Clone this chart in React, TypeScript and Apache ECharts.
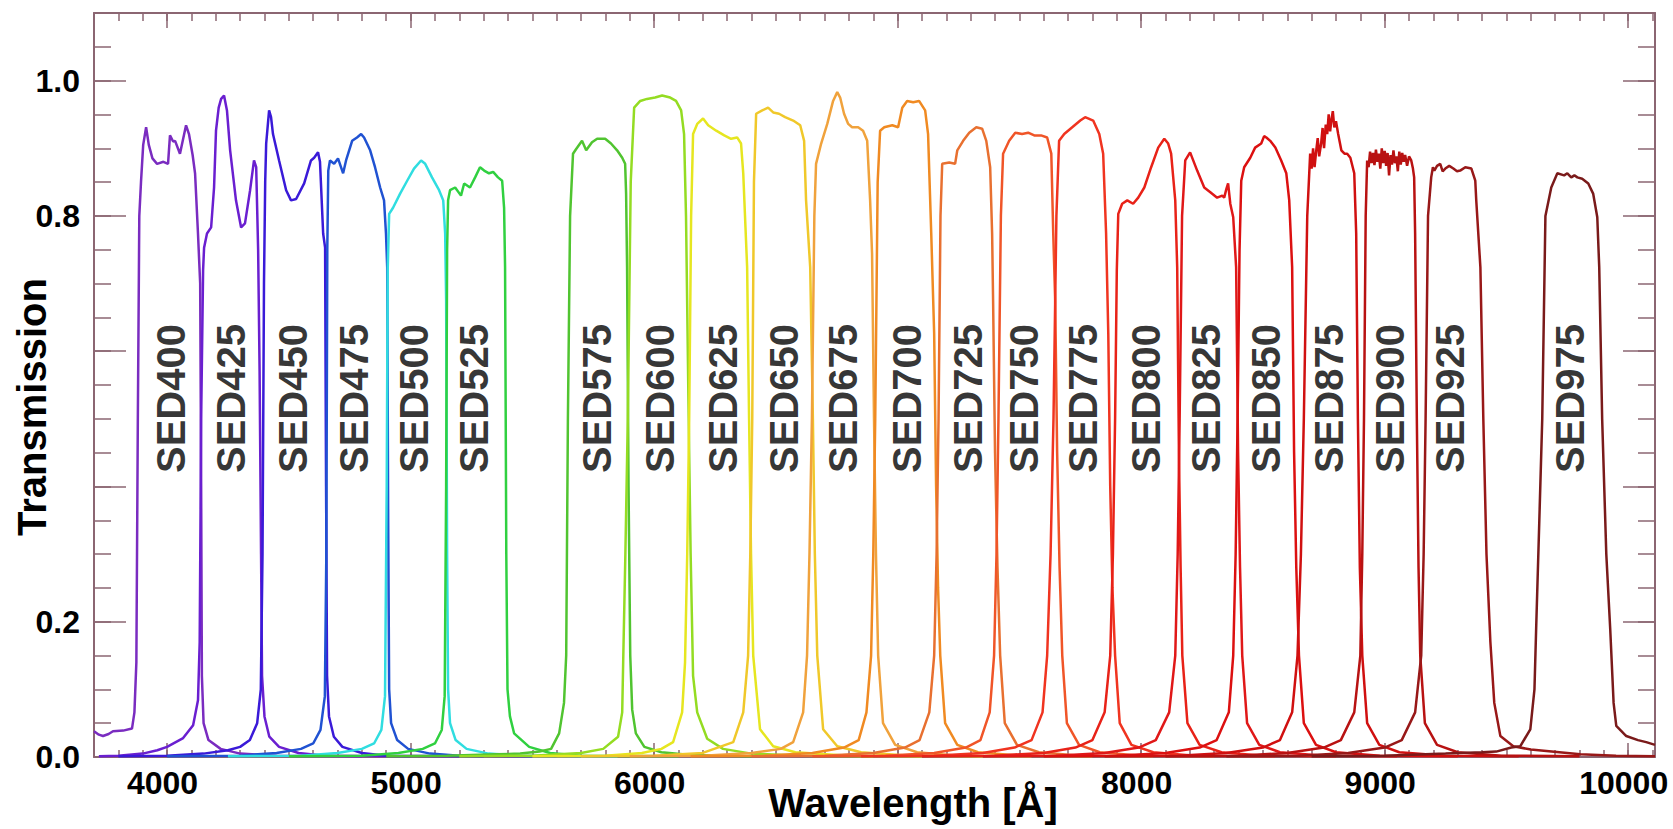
import React, { useEffect, useRef } from 'react';
import * as echarts from 'echarts';

// ---------- axis values ----------
const XMIN = 3700;
const XMAX = 10110;
const YMIN = 0;
const YMAX = 1.1;
const xMajorTicks = [4000, 5000, 6000, 7000, 8000, 9000, 10000];
const xLabelValues = [4000, 5000, 6000, 8000, 9000, 10000];
const yMajorTicks = [0, 0.2, 0.4, 0.6, 0.8, 1.0];
const yLabelValues = [0, 0.2, 0.8, 1.0];
const xMinorTicks: number[] = [];
for (let v = 3800; v <= 10100; v += 100) xMinorTicks.push(v);
const yMinorTicks: number[] = [];
for (let k = 1; k <= 21; k++) yMinorTicks.push(Math.round(k * 5) / 100);

// ---------- filters ----------
const filterNames = [
  'SED400', 'SED425', 'SED450', 'SED475', 'SED500', 'SED525', 'SED575', 'SED600',
  'SED625', 'SED650', 'SED675', 'SED700', 'SED725', 'SED750', 'SED775', 'SED800',
  'SED825', 'SED850', 'SED875', 'SED900', 'SED925', 'SED975',
];
const filterColors = [
  '#7a2cc0', '#6a1fd0', '#3a1ad8', '#2052d2', '#30dde0', '#30d040', '#50c430', '#94dc22',
  '#e6e620', '#f0c82a', '#f0a23c', '#f08a22', '#e87030', '#f05528', '#f03420', '#e82218',
  '#e01818', '#dc1010', '#d01010', '#b81212', '#981818', '#7a1a1a',
];
// label anchor wavelengths (centre of each rotated label) and label height
const labelX = [
  4018, 4263, 4517, 4768, 5014, 5261, 5766, 6025, 6284, 6534, 6776,
  7039, 7290, 7520, 7762, 8021, 8267, 8514, 8772, 9023, 9269, 9762,
];
const LABEL_T = 0.53;

// ---------- transmission curves [wavelength Å, transmission] ----------
const sed400 = [
  [3700, 0.038], [3720, 0.033], [3737, 0.031], [3760, 0.034], [3778, 0.038], [3820, 0.039],
  [3856, 0.042], [3866, 0.066], [3874, 0.14], [3880, 0.5], [3886, 0.8], [3893, 0.85],
  [3902, 0.905], [3914, 0.931], [3925, 0.905], [3940, 0.885], [3959, 0.877], [3985, 0.88],
  [4004, 0.877], [4012, 0.919], [4025, 0.91], [4033, 0.911], [4053, 0.892], [4078, 0.934],
  [4090, 0.921], [4105, 0.89], [4115, 0.863], [4127, 0.774], [4136, 0.7], [4140, 0.4],
  [4143, 0.12], [4150, 0.05], [4170, 0.025], [4220, 0.012], [4300, 0.005], [4450, 0.002],
  [4800, 0.001],
];
const sed425 = [
  [3720, 0.001], [3800, 0.002], [3900, 0.005], [3960, 0.01], [4000, 0.015], [4066, 0.028],
  [4107, 0.047], [4127, 0.084], [4134, 0.17], [4140, 0.5], [4148, 0.72], [4152, 0.753],
  [4164, 0.774], [4181, 0.783], [4193, 0.842], [4201, 0.926], [4212, 0.96], [4222, 0.973],
  [4234, 0.978], [4246, 0.956], [4259, 0.897], [4283, 0.823], [4304, 0.783], [4320, 0.789],
  [4341, 0.838], [4357, 0.882], [4366, 0.872], [4374, 0.75], [4380, 0.57], [4386, 0.3],
  [4390, 0.12], [4400, 0.06], [4420, 0.03], [4460, 0.015], [4540, 0.006], [4650, 0.002],
  [5000, 0.001],
];
const sed450 = [
  [3800, 0.001], [4000, 0.002], [4150, 0.005], [4250, 0.01], [4300, 0.015], [4340, 0.025],
  [4370, 0.05], [4385, 0.1], [4392, 0.3], [4398, 0.7], [4403, 0.85], [4407, 0.907],
  [4419, 0.956], [4427, 0.946], [4435, 0.921], [4460, 0.882], [4489, 0.838], [4509, 0.823],
  [4530, 0.825], [4563, 0.848], [4591, 0.882], [4604, 0.886], [4620, 0.894], [4628, 0.88],
  [4641, 0.774], [4649, 0.753], [4653, 0.4], [4657, 0.12], [4665, 0.06], [4685, 0.03],
  [4720, 0.015], [4800, 0.006], [4900, 0.002], [5300, 0.001],
];
const sed475 = [
  [4000, 0.001], [4300, 0.002], [4450, 0.006], [4550, 0.012], [4600, 0.02], [4630, 0.04],
  [4648, 0.09], [4654, 0.3], [4658, 0.75], [4662, 0.867], [4669, 0.882], [4686, 0.877],
  [4702, 0.885], [4723, 0.863], [4735, 0.882], [4760, 0.911], [4780, 0.916], [4797, 0.921],
  [4809, 0.916], [4834, 0.897], [4854, 0.872], [4875, 0.842], [4891, 0.823], [4899, 0.774],
  [4904, 0.724], [4908, 0.35], [4912, 0.1], [4920, 0.05], [4945, 0.025], [4990, 0.012],
  [5080, 0.005], [5200, 0.002], [5600, 0.001],
];
const sed500 = [
  [4250, 0.001], [4550, 0.002], [4700, 0.006], [4800, 0.012], [4850, 0.02], [4880, 0.04],
  [4895, 0.09], [4902, 0.4], [4906, 0.72], [4912, 0.803], [4928, 0.812], [4957, 0.833],
  [4986, 0.852], [5014, 0.87], [5043, 0.882], [5060, 0.877], [5088, 0.857], [5117, 0.838],
  [5134, 0.823], [5142, 0.774], [5146, 0.675], [5150, 0.3], [5154, 0.1], [5162, 0.05],
  [5185, 0.025], [5230, 0.012], [5320, 0.005], [5450, 0.002], [5850, 0.001],
];
const sed525 = [
  [4500, 0.001], [4800, 0.002], [4950, 0.006], [5050, 0.012], [5100, 0.02], [5128, 0.04],
  [5140, 0.09], [5146, 0.4], [5150, 0.75], [5154, 0.823], [5162, 0.838], [5183, 0.842],
  [5207, 0.83], [5220, 0.848], [5244, 0.842], [5265, 0.857], [5285, 0.872], [5302, 0.867],
  [5322, 0.863], [5339, 0.865], [5359, 0.857], [5376, 0.852], [5384, 0.812], [5388, 0.724],
  [5393, 0.3], [5398, 0.1], [5408, 0.06], [5425, 0.035], [5487, 0.015], [5573, 0.006],
  [5700, 0.002], [6100, 0.001],
];
const sed575 = [
  [4900, 0.001], [5150, 0.002], [5350, 0.004], [5450, 0.005], [5530, 0.008], [5577, 0.012],
  [5610, 0.035], [5630, 0.08], [5639, 0.15], [5646, 0.5], [5655, 0.8], [5667, 0.892],
  [5680, 0.899], [5704, 0.911], [5721, 0.897], [5745, 0.909], [5766, 0.914], [5799, 0.914],
  [5823, 0.907], [5848, 0.897], [5869, 0.886], [5881, 0.877], [5885, 0.833], [5889, 0.724],
  [5895, 0.4], [5902, 0.15], [5910, 0.07], [5925, 0.035], [5960, 0.015], [6030, 0.007],
  [6150, 0.003], [6400, 0.001],
];
const sed600 = [
  [5200, 0.001], [5500, 0.002], [5700, 0.006], [5791, 0.012], [5852, 0.03], [5869, 0.066],
  [5873, 0.14], [5882, 0.3], [5892, 0.5], [5904, 0.85], [5918, 0.96], [5943, 0.97],
  [5971, 0.973], [6004, 0.975], [6033, 0.978], [6066, 0.975], [6090, 0.97], [6111, 0.956],
  [6123, 0.921], [6131, 0.8], [6142, 0.5], [6150, 0.3], [6160, 0.12], [6177, 0.066],
  [6218, 0.027], [6283, 0.012], [6400, 0.005], [6600, 0.002], [6900, 0.001],
];
const sed625 = [
  [5500, 0.001], [5800, 0.002], [5950, 0.006], [6030, 0.012], [6078, 0.022], [6115, 0.066],
  [6127, 0.14], [6136, 0.3], [6144, 0.5], [6152, 0.8], [6160, 0.921], [6177, 0.936],
  [6201, 0.944], [6222, 0.934], [6255, 0.926], [6288, 0.919], [6316, 0.914], [6341, 0.916],
  [6357, 0.907], [6366, 0.863], [6382, 0.724], [6390, 0.5], [6398, 0.3], [6407, 0.15],
  [6435, 0.041], [6489, 0.016], [6580, 0.007], [6800, 0.002], [7100, 0.001],
];
const sed650 = [
  [5700, 0.001], [6000, 0.002], [6200, 0.006], [6325, 0.022], [6366, 0.066], [6386, 0.15],
  [6395, 0.3], [6403, 0.5], [6410, 0.85], [6419, 0.951], [6444, 0.956], [6468, 0.96],
  [6489, 0.953], [6513, 0.951], [6538, 0.946], [6571, 0.941], [6600, 0.934], [6616, 0.911],
  [6624, 0.823], [6641, 0.724], [6652, 0.5], [6660, 0.3], [6670, 0.15], [6694, 0.041],
  [6752, 0.016], [6850, 0.007], [7050, 0.002], [7350, 0.001],
];
const sed675 = [
  [5900, 0.001], [6200, 0.002], [6400, 0.006], [6520, 0.012], [6571, 0.022], [6612, 0.066],
  [6628, 0.15], [6638, 0.3], [6648, 0.5], [6658, 0.8], [6665, 0.877], [6686, 0.907],
  [6711, 0.936], [6735, 0.97], [6752, 0.983], [6764, 0.975], [6780, 0.951], [6797, 0.936],
  [6813, 0.931], [6838, 0.931], [6858, 0.926], [6875, 0.911], [6887, 0.823], [6895, 0.744],
  [6903, 0.5], [6911, 0.3], [6920, 0.15], [6940, 0.05], [6990, 0.018], [7080, 0.007],
  [7250, 0.002], [7550, 0.001],
];
const sed700 = [
  [6150, 0.001], [6450, 0.002], [6650, 0.006], [6780, 0.014], [6840, 0.025], [6872, 0.066],
  [6891, 0.15], [6900, 0.3], [6908, 0.5], [6918, 0.85], [6928, 0.926], [6945, 0.931],
  [6978, 0.934], [7002, 0.931], [7019, 0.96], [7039, 0.97], [7064, 0.968], [7088, 0.97],
  [7113, 0.956], [7125, 0.921], [7138, 0.774], [7150, 0.626], [7158, 0.4], [7166, 0.25],
  [7175, 0.15], [7195, 0.05], [7245, 0.018], [7330, 0.007], [7500, 0.002], [7800, 0.001],
];
const sed725 = [
  [6400, 0.001], [6700, 0.002], [6900, 0.006], [7030, 0.014], [7090, 0.025], [7130, 0.066],
  [7150, 0.15], [7160, 0.3], [7168, 0.5], [7176, 0.8], [7183, 0.877], [7212, 0.879],
  [7236, 0.877], [7245, 0.897], [7269, 0.911], [7294, 0.923], [7323, 0.931], [7347, 0.929],
  [7364, 0.911], [7380, 0.872], [7388, 0.774], [7392, 0.675], [7400, 0.45], [7410, 0.28],
  [7421, 0.15], [7440, 0.05], [7490, 0.018], [7580, 0.007], [7750, 0.002], [8050, 0.001],
];
const sed750 = [
  [6650, 0.001], [6950, 0.002], [7150, 0.006], [7280, 0.014], [7340, 0.025], [7378, 0.066],
  [7396, 0.15], [7406, 0.3], [7414, 0.5], [7424, 0.8], [7433, 0.892], [7458, 0.911],
  [7483, 0.923], [7511, 0.921], [7536, 0.923], [7561, 0.919], [7589, 0.919], [7614, 0.916],
  [7631, 0.892], [7639, 0.774], [7647, 0.675], [7655, 0.45], [7665, 0.28], [7676, 0.15],
  [7695, 0.05], [7745, 0.018], [7830, 0.007], [8000, 0.002], [8300, 0.001],
];
const sed775 = [
  [6850, 0.001], [7150, 0.002], [7350, 0.006], [7480, 0.014], [7550, 0.025], [7595, 0.066],
  [7614, 0.15], [7628, 0.3], [7640, 0.5], [7652, 0.8], [7663, 0.911], [7684, 0.921],
  [7717, 0.931], [7750, 0.941], [7770, 0.946], [7803, 0.941], [7828, 0.921], [7844, 0.892],
  [7856, 0.774], [7865, 0.626], [7873, 0.4], [7882, 0.25], [7893, 0.15], [7912, 0.05],
  [7960, 0.018], [8050, 0.007], [8220, 0.002], [8550, 0.001],
];
const sed800 = [
  [7100, 0.001], [7400, 0.002], [7600, 0.006], [7730, 0.014], [7800, 0.025], [7850, 0.066],
  [7873, 0.15], [7884, 0.3], [7893, 0.5], [7900, 0.72], [7906, 0.803], [7922, 0.818],
  [7943, 0.823], [7967, 0.818], [7988, 0.827], [8013, 0.842], [8041, 0.872], [8070, 0.901],
  [8095, 0.914], [8111, 0.907], [8123, 0.892], [8140, 0.823], [8148, 0.724], [8155, 0.45],
  [8162, 0.28], [8169, 0.15], [8190, 0.05], [8240, 0.018], [8330, 0.007], [8500, 0.002],
  [8800, 0.001],
];
const sed825 = [
  [7350, 0.001], [7650, 0.002], [7850, 0.006], [7990, 0.014], [8060, 0.025], [8115, 0.066],
  [8140, 0.15], [8150, 0.3], [8158, 0.5], [8168, 0.8], [8181, 0.882], [8201, 0.894],
  [8230, 0.867], [8259, 0.842], [8284, 0.835], [8312, 0.827], [8333, 0.83], [8341, 0.827],
  [8350, 0.84], [8357, 0.848], [8366, 0.818], [8378, 0.798], [8390, 0.724], [8398, 0.45],
  [8406, 0.28], [8415, 0.15], [8435, 0.05], [8485, 0.018], [8570, 0.007], [8750, 0.002],
  [9050, 0.001],
];
const sed850 = [
  [7600, 0.001], [7900, 0.002], [8100, 0.006], [8240, 0.014], [8310, 0.025], [8360, 0.066],
  [8378, 0.15], [8388, 0.3], [8396, 0.5], [8404, 0.75], [8411, 0.852], [8423, 0.872],
  [8448, 0.886], [8468, 0.901], [8493, 0.907], [8505, 0.918], [8514, 0.916], [8530, 0.911],
  [8551, 0.901], [8575, 0.882], [8596, 0.863], [8608, 0.823], [8620, 0.724], [8628, 0.45],
  [8637, 0.28], [8648, 0.15], [8668, 0.05], [8718, 0.018], [8800, 0.007], [8980, 0.002],
  [9300, 0.001],
];
const sed875 = [
  [7850, 0.001], [8150, 0.002], [8350, 0.006], [8500, 0.014], [8570, 0.025], [8620, 0.066],
  [8642, 0.15], [8656, 0.3], [8668, 0.5], [8682, 0.8], [8694, 0.892], [8700, 0.87],
  [8706, 0.9], [8712, 0.872], [8719, 0.897], [8725, 0.915], [8731, 0.888], [8739, 0.907],
  [8745, 0.93], [8751, 0.9], [8758, 0.935], [8764, 0.921], [8770, 0.95], [8776, 0.925],
  [8781, 0.941], [8787, 0.955], [8793, 0.931], [8800, 0.94], [8809, 0.921], [8815, 0.91],
  [8822, 0.897], [8835, 0.892], [8846, 0.892], [8859, 0.886], [8875, 0.863], [8883, 0.774],
  [8890, 0.5], [8898, 0.28], [8908, 0.15], [8928, 0.05], [8978, 0.018], [9060, 0.007],
  [9250, 0.002], [9550, 0.001],
];
const sed900 = [
  [8100, 0.001], [8400, 0.002], [8600, 0.006], [8750, 0.014], [8820, 0.025], [8875, 0.066],
  [8900, 0.15], [8908, 0.3], [8915, 0.5], [8922, 0.8], [8928, 0.882], [8934, 0.872],
  [8940, 0.895], [8946, 0.878], [8952, 0.893], [8958, 0.875], [8964, 0.898], [8970, 0.88],
  [8976, 0.892], [8982, 0.87], [8988, 0.9], [8994, 0.878], [9000, 0.896], [9006, 0.874],
  [9012, 0.893], [9018, 0.86], [9024, 0.89], [9030, 0.876], [9036, 0.897], [9042, 0.878],
  [9048, 0.888], [9054, 0.866], [9060, 0.895], [9066, 0.876], [9072, 0.893], [9078, 0.88],
  [9084, 0.89], [9092, 0.874], [9100, 0.888], [9109, 0.882], [9116, 0.87], [9121, 0.857],
  [9125, 0.774], [9132, 0.5], [9139, 0.28], [9146, 0.15], [9165, 0.05], [9215, 0.018],
  [9300, 0.007], [9480, 0.002], [9800, 0.001],
];
const sed925 = [
  [8350, 0.001], [8650, 0.002], [8850, 0.006], [9000, 0.014], [9070, 0.025], [9125, 0.066],
  [9150, 0.15], [9160, 0.3], [9168, 0.5], [9178, 0.8], [9191, 0.857], [9198, 0.872],
  [9204, 0.867], [9215, 0.874], [9228, 0.877], [9238, 0.866], [9249, 0.87], [9265, 0.874],
  [9282, 0.87], [9297, 0.866], [9310, 0.867], [9331, 0.872], [9356, 0.87], [9372, 0.852],
  [9376, 0.823], [9393, 0.724], [9405, 0.5], [9418, 0.3], [9434, 0.17], [9450, 0.08],
  [9475, 0.031], [9528, 0.016], [9600, 0.011], [9664, 0.009], [9803, 0.004], [9950, 0.002],
  [10110, 0.001],
];
const sed975 = [
  [8700, 0.001], [9000, 0.002], [9250, 0.005], [9400, 0.007], [9458, 0.008], [9520, 0.014],
  [9557, 0.016], [9598, 0.041], [9615, 0.1], [9622, 0.19], [9635, 0.35], [9647, 0.5],
  [9660, 0.8], [9684, 0.842], [9709, 0.863], [9737, 0.86], [9750, 0.863], [9766, 0.857],
  [9779, 0.86], [9791, 0.857], [9811, 0.855], [9836, 0.848], [9856, 0.833], [9873, 0.798],
  [9881, 0.724], [9893, 0.5], [9910, 0.3], [9926, 0.19], [9940, 0.08], [9951, 0.046],
  [9992, 0.031], [10040, 0.025], [10074, 0.022], [10110, 0.018],
];

const curves = [
  sed400, sed425, sed450, sed475, sed500, sed525, sed575, sed600, sed625, sed650, sed675,
  sed700, sed725, sed750, sed775, sed800, sed825, sed850, sed875, sed900, sed925, sed975,
];

const FRAME = '#8b6672';
const FONT = '"Liberation Sans", Arial, Helvetica, sans-serif';

function xAxisDef(grid: number, pos: 'top' | 'bottom', ticks: number[], len: number, showLine: boolean, labels: boolean) {
  return {
    type: 'value',
    gridIndex: grid,
    position: pos,
    min: XMIN,
    max: XMAX,
    axisLine: { show: showLine, onZero: false, lineStyle: { color: FRAME, width: 2 } },
    axisTick: { show: true, inside: true, length: len, customValues: ticks, lineStyle: { color: FRAME, width: 1.5 } },
    axisLabel: labels
      ? {
          show: true,
          customValues: xLabelValues,
          margin: 10,
          padding: [0, 9, 0, 0],
          fontSize: 32,
          fontWeight: 'bold',
          fontFamily: FONT,
          color: '#000',
          formatter: (v: number) => String(v),
        }
      : { show: false },
    splitLine: { show: false },
  };
}

function yAxisDef(grid: number, pos: 'left' | 'right', ticks: number[], len: number, showLine: boolean, labels: boolean) {
  return {
    type: 'value',
    gridIndex: grid,
    position: pos,
    min: YMIN,
    max: YMAX,
    axisLine: { show: showLine, onZero: false, lineStyle: { color: FRAME, width: 2 } },
    axisTick: { show: true, inside: true, length: len, customValues: ticks, lineStyle: { color: FRAME, width: 1.5 } },
    axisLabel: labels
      ? {
          show: true,
          customValues: yLabelValues,
          margin: 14,
          fontSize: 32,
          fontWeight: 'bold',
          fontFamily: FONT,
          color: '#000',
          formatter: (v: number) => v.toFixed(1),
        }
      : { show: false },
    splitLine: { show: false },
  };
}

export default function App() {
  const ref = useRef<HTMLDivElement>(null);

  useEffect(() => {
    if (!ref.current) return;
    const chart = echarts.init(ref.current, null, { renderer: 'svg' });
    const gridPos = { left: 94, right: 18, top: 13, bottom: 72 };

    const lineSeries = curves.map((d, i) => ({
      type: 'line',
      name: filterNames[i],
      xAxisIndex: 0,
      yAxisIndex: 0,
      data: d,
      showSymbol: false,
      symbol: 'none',
      smooth: false,
      clip: true,
      lineStyle: { color: filterColors[i], width: 2.5 },
      itemStyle: { color: filterColors[i] },
      z: 2 + i * 0.01,
    }));

    const labelSeries = {
      type: 'scatter',
      xAxisIndex: 0,
      yAxisIndex: 0,
      symbol: 'circle',
      symbolSize: 1,
      itemStyle: { color: 'rgba(0,0,0,0)' },
      z: 10,
      data: filterNames.map((n, i) => ({ name: n, value: [labelX[i], LABEL_T] })),
      label: {
        show: true,
        position: 'inside',
        rotate: 90,
        formatter: '{b}',
        fontSize: 40,
        fontWeight: 'bold',
        fontFamily: FONT,
        color: '#000',
        align: 'center',
        verticalAlign: 'middle',
      },
    };

    chart.setOption({
      animation: false,
      backgroundColor: '#ffffff',
      grid: [
        { ...gridPos, containLabel: false },
        { ...gridPos, containLabel: false },
      ],
      xAxis: [
        xAxisDef(0, 'bottom', xMajorTicks, 14, true, true),
        xAxisDef(0, 'top', xMajorTicks, 15, true, false),
        xAxisDef(1, 'bottom', xMinorTicks, 7, false, false),
        xAxisDef(1, 'top', xMinorTicks, 8, false, false),
      ],
      yAxis: [
        yAxisDef(0, 'left', yMajorTicks, 32, true, true),
        yAxisDef(0, 'right', yMajorTicks, 32, true, false),
        yAxisDef(1, 'left', yMinorTicks, 17, false, false),
        yAxisDef(1, 'right', yMinorTicks, 17, false, false),
      ],
      series: [...lineSeries, labelSeries],
      graphic: [
        {
          type: 'text',
          x: 913,
          y: 803,
          style: {
            text: 'Wavelength [Å]',
            fontSize: 40,
            fontWeight: 'bold',
            fontFamily: FONT,
            fill: '#000',
            align: 'center',
            verticalAlign: 'middle',
          },
        },
        {
          type: 'text',
          x: 32,
          y: 407,
          rotation: Math.PI / 2,
          style: {
            text: 'Transmission',
            fontSize: 40,
            fontWeight: 'bold',
            fontFamily: FONT,
            fill: '#000',
            align: 'center',
            verticalAlign: 'middle',
          },
        },
      ],
    });

    return () => {
      chart.dispose();
    };
  }, []);

  return (
    <div
      ref={ref}
      style={{ position: 'fixed', left: 0, top: 0, width: 1673, height: 829, background: '#ffffff' }}
    />
  );
}
